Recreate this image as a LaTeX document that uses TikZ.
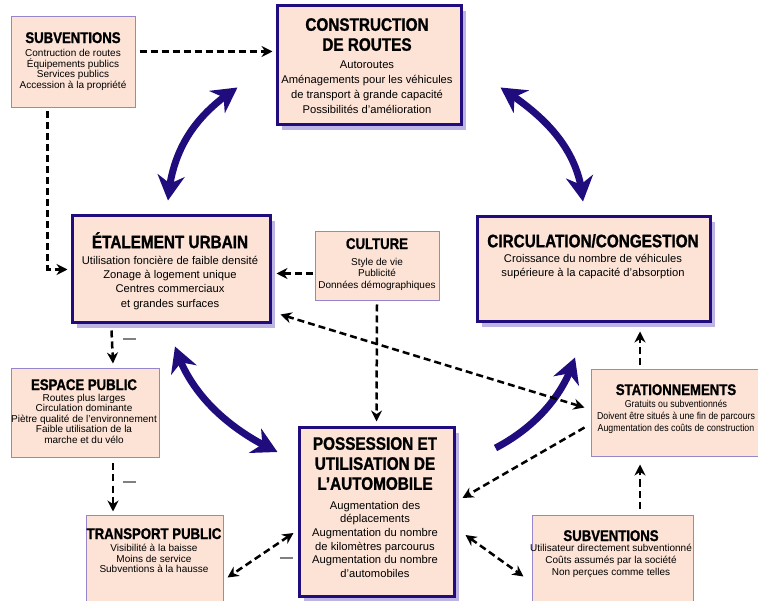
\documentclass[tikz,border=0pt]{standalone}
\usepackage{fontspec}
\setmainfont{Liberation Sans}
\newfontfamily\tfont{Liberation Sans}[FakeStretch=0.85, BoldFeatures={FakeBold=1.2}]
\newfontfamily\cfont{Liberation Sans}[FakeStretch=0.88]
\usetikzlibrary{arrows.meta,calc,shadows,bending}
\definecolor{boxfill}{RGB}{252,227,214}
\definecolor{navy}{RGB}{32,12,125}
\definecolor{thinedge}{RGB}{150,135,205}
\definecolor{shade}{RGB}{190,180,228}
\newcommand\bigT{\tfont\bfseries\fontsize{18}{19}\selectfont}
\newcommand\smT{\tfont\bfseries\fontsize{15.5}{16}\selectfont}
\newcommand\bodyf[2]{\normalfont\fontsize{#1}{#2}\selectfont}
\tikzset{
  thickbox/.style={draw=navy, line width=3pt, fill=boxfill, inner sep=0pt,
    general shadow={fill=shade, draw=none, shadow xshift=5pt, shadow yshift=-5pt}},
  thinbox/.style={draw=thinedge, line width=1pt, fill=boxfill, inner sep=0pt},
  txt/.style={anchor=north, align=center, inner sep=0pt},
  dasharrow/.style={draw=black, line width=2.5pt, dash pattern=on 7pt off 4pt,
    -{Stealth[length=11pt,width=11pt]}},
  dashboth/.style={draw=black, line width=2.5pt, dash pattern=on 7pt off 4pt,
    {Stealth[length=11pt,width=11pt]}-{Stealth[length=11pt,width=11pt]}},
  bigboth/.style={draw=navy, line width=7pt,
    {Stealth[length=25pt,width=27pt,inset=8pt]}-{Stealth[length=25pt,width=27pt,inset=8pt]}},
  bigone/.style={draw=navy, line width=7pt, -{Stealth[length=25pt,width=27pt,inset=8pt]}},
  minus/.style={inner sep=0pt, text=gray}
}
\begin{document}
\begin{tikzpicture}[x=1pt,y=-1pt]
\fill[white] (0,0) rectangle (758,601);
\useasboundingbox (0,0) rectangle (758,601);

% boxes
\node[thinbox, minimum width=124pt, minimum height=91pt] (subTL) at (73,62.5) {};
\node[thickbox, minimum width=184pt, minimum height=119pt] (con) at (369,65.5) {};
\node[thickbox, minimum width=198pt, minimum height=107pt] (etal) at (171,269.5) {};
\node[thinbox, minimum width=124pt, minimum height=69pt] (cult) at (377,266.5) {};
\node[thickbox, minimum width=233pt, minimum height=105pt] (circ) at (593.5,269.5) {};
\node[thinbox, minimum width=148pt, minimum height=89pt] (esp) at (85,413.5) {};
\node[thinbox, minimum width=137pt, minimum height=95pt] (trans) at (154.5,562.5) {};
\node[thickbox, minimum width=155pt, minimum height=168pt] (poss) at (376.5,512) {};
\node[thinbox, minimum width=178pt, minimum height=87pt] (stat) at (680,413.5) {};
\node[thinbox, minimum width=161pt, minimum height=95pt] (subBR) at (612.5,562.5) {};

% texts
\node[txt, font={\bodyf{10}{10.5}}] (subTLt) at (73,32) {\smT SUBVENTIONS\\[3pt]Contruction de routes\\Équipements publics\\Services publics\\Accession à la propriété};
\node[txt, font={\bodyf{11.2}{15}}] (cont) at (367,18) {\bigT CONSTRUCTION\\[5pt]\bigT DE ROUTES\\[3pt]Autoroutes\\Aménagements pour les véhicules\\de transport à grande capacité\\Possibilités d’amélioration};
\node[txt, font={\bodyf{11.2}{14.3}}] (etalt) at (170,232) {\bigT ÉTALEMENT URBAIN\\[1.7pt]Utilisation foncière de faible densité\\Zonage à logement unique\\Centres commerciaux\\et grandes surfaces};
\node[txt, font={\bodyf{10}{11.5}}] (cultt) at (377,238) {\smT CULTURE\\[4.5pt]Style de vie\\Publicité\\Données démographiques};
\node[txt, font={\bodyf{11.2}{14}}] (circt) at (593,234) {\bigT CIRCULATION/CONGESTION\\[1pt]Croissance du nombre de véhicules\\supérieure à la capacité d’absorption};
\node[txt, font={\bodyf{10}{10.5}}] (espt) at (84,379) {\smT ESPACE PUBLIC\\[0.5pt]Routes plus larges\\Circulation dominante\\Piètre qualité de l’environnement\\Faible utilisation de la\\marche et du vélo};
\node[txt, font={\bodyf{10}{10.5}}] (transt) at (154,528) {\smT TRANSPORT PUBLIC\\[2pt]Visibilité à la baisse\\Moins de service\\Subventions à la hausse};
\node[txt, font={\bodyf{11.2}{13.6}}] (posst) at (375,437) {\bigT POSSESSION ET\\[6.4pt]\bigT UTILISATION DE\\[6.4pt]\bigT L’AUTOMOBILE\\[6pt]Augmentation des\\déplacements\\Augmentation du nombre\\de kilomètres parcourus\\Augmentation du nombre\\d’automobiles};
\node[txt, font={\cfont\fontsize{10}{12}\selectfont}] (statt) at (676,384) {\smT STATIONNEMENTS\\[0.5pt]Gratuits ou subventionnés\\Doivent être situés à une fin de parcours\\Augmentation des coûts de construction};
\node[txt, font={\bodyf{10}{12}}] (subBRt) at (611,530) {\smT SUBVENTIONS\\[-2pt]Utilisateur directement subventionné\\Coûts assumés par la société\\Non perçues comme telles};

% thick curved arrows
\draw[bigboth] ($(con.west)+(-38,22)$) .. controls +(-37.5,24.5) and +(4,-55.5) .. ($(etal.north)+(-3,-14)$);
\draw[bigboth] ($(con.east)+(38,22)$) .. controls +(37.5,24.5) and +(-4,-56.5) .. ($(circ.north)+(-10.5,-14)$);
\draw[bigboth] ($(etal.south)+(4,22)$) .. controls +(15,48.5) and +(-47.5,-22) .. ($(poss.west)+(-20,-60)$);
\draw[bigone] ($(poss.east)+(40,-64)$) .. controls +(34.5,-18) and +(-13,42.5) .. ($(circ.south)+(-18.5,34)$);

% dashed arrows
\draw[dasharrow] ($(subTL.east)+(4,-11)$) -- ($(con.west)+(-3,-14)$);
\draw[dasharrow] ($(subTL.south west)+(37,3)$) |- ($(etal.west)+(-3,0)$);
\draw[dasharrow] ($(cult.west)+(-2,7)$) -- ($(etal.east)+(5,4)$);
\draw[dasharrow] ($(cult.south)+(0,3)$) -- ($(poss.north)+(0,-5)$);
\draw[dashboth] ($(etal.south east)+(9,-10)$) -- ($(stat.west)+(-6,-6)$);
\draw[dasharrow] ($(stat.north)+(-40,-4)$) -- ($(circ.south)+(46.5,8)$);
\draw[dasharrow] ($(subBR.north)+(27.5,-6)$) -- ($(stat.south)+(-40,7)$);
\draw[dasharrow] ($(stat.west)+(-6,14)$) -- ($(poss.east)+(7,-14)$);
\draw[dashboth] ($(poss.east)+(10,23)$) -- ($(subBR.west)+(-8,14)$);
\draw[dashboth] ($(poss.west)+(-4,21)$) -- ($(trans.east)+(4,15)$);
\draw[dasharrow] ($(etal.south west)+(41,6)$) -- ($(esp.north)+(28,-5)$);
\draw[dasharrow] ($(esp.south)+(28,5)$) -- ($(trans.north)+(-41.5,-3)$);

% minus signs
\node[minus] (m1) at (129,339) {\rule{13pt}{1.2pt}};
\node[minus] (m2) at (129,482) {\rule{13pt}{1.2pt}};
\node[minus] (m3) at (286,558) {\rule{13pt}{1.2pt}};
\end{tikzpicture}
\end{document}
